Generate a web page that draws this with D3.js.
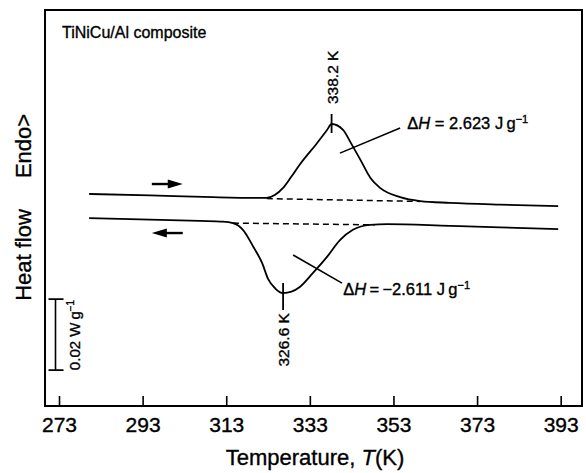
<!DOCTYPE html>
<html>
<head>
<meta charset="utf-8">
<script src="https://cdn.jsdelivr.net/npm/d3@7"></script>
<style>
  html, body { margin: 0; padding: 0; background: #fff; }
  svg { display: block; font-family: "Liberation Sans", Arial, Helvetica, sans-serif; }
  svg text { fill: #000; stroke: #000; stroke-width: 0.35px; }
</style>
</head>
<body>
<svg id="chart" width="586" height="473"></svg>
<script>
// DSC heat-flow traces of the TiNiCu/Al composite (temperature in K, heat flow in W/g)
const tempTicks = [273, 293, 313, 333, 353, 373, 393];

const heatingT    = [280.2, 294.8, 309.8, 321.1, 322.7, 324.6, 326.6, 328.6, 330.6, 334.7, 337.1, 338.2, 341.0, 342.7, 345.1, 347.5, 349.8, 354.6, 359.4, 366.5, 378.5, 392.4];
const heatingFlow = [0.0017, 0.0013, 0.0008, 0.0006, 0.0006, 0.0014, 0.0034, 0.0066, 0.0100, 0.0160, 0.0197, 0.0214, 0.0197, 0.0163, 0.0113, 0.0062, 0.0034, 0.0008, -0.0003, -0.0008, -0.0013, -0.0017];

const coolingT    = [280.2, 294.8, 306.7, 312.2, 314.6, 317.0, 319.4, 321.6, 323.0, 324.8, 326.6, 328.6, 330.6, 333.7, 337.1, 340.2, 343.3, 347.4, 351.5, 366.5, 378.5, 392.4];
const coolingFlow = [-0.0051, -0.0055, -0.0059, -0.0061, -0.0065, -0.0084, -0.0130, -0.0178, -0.0222, -0.0250, -0.0262, -0.0258, -0.0245, -0.0206, -0.0160, -0.0113, -0.0084, -0.0070, -0.0068, -0.0073, -0.0077, -0.0082];

// integration baselines under each transition peak
const heatingBaseT    = [322.7, 359.4];
const heatingBaseFlow = [0.0004, -0.0004];
const coolingBaseT    = [314.6, 348.6];
const coolingBaseFlow = [-0.0065, -0.0070];

const peakTemps  = [338.2, 326.6];
const peakFlows  = [0.0214, -0.0262];
const enthalpies = [2.623, -2.611];

const scaleBarValue = 0.02; // W/g

const svg = d3.select("#chart");
const frame = { left: 45, top: 10, right: 582, bottom: 406 };

const x = d3.scaleLinear().domain([269.65, 398.1]).range([frame.left, frame.right]);
const y = d3.scaleLinear().domain([-0.058, 0.0535]).range([frame.bottom, frame.top]);

// plot frame
svg.append("rect")
  .attr("x", frame.left).attr("y", frame.top)
  .attr("width", frame.right - frame.left).attr("height", frame.bottom - frame.top)
  .attr("fill", "none").attr("stroke", "#000").attr("stroke-width", 2);

// temperature axis: inward ticks
const xAxis = d3.axisBottom(x).tickValues(tempTicks).tickFormat(d3.format("d"))
  .tickSizeInner(-10).tickSizeOuter(0).tickPadding(11);
const gx = svg.append("g").attr("transform", `translate(0,${frame.bottom})`).call(xAxis);
gx.select(".domain").remove();
gx.selectAll(".tick line").attr("stroke", "#000").attr("stroke-width", 1.6);
gx.selectAll(".tick text").attr("font-size", 21)
  .attr("font-family", "'Liberation Sans', Arial, sans-serif");

const xTitle = svg.append("text").attr("x", 315).attr("y", 465)
  .attr("text-anchor", "middle").attr("font-size", 22);
xTitle.append("tspan").text("Temperature, ");
xTitle.append("tspan").attr("font-style", "italic").text("T");
xTitle.append("tspan").text("(K)");

// vertical axis labels
svg.append("text").attr("transform", "translate(31,255) rotate(-90)")
  .attr("text-anchor", "middle").attr("font-size", 22).text("Heat flow");
svg.append("text").attr("transform", "translate(31,146) rotate(-90)")
  .attr("text-anchor", "middle").attr("font-size", 22).text("Endo>");

svg.append("text").attr("x", 62).attr("y", 38).attr("font-size", 16).text("TiNiCu/Al composite");

// traces
const line = d3.line().x(d => x(d[0])).y(d => y(d[1])).curve(d3.curveMonotoneX);
const heating = d3.zip(heatingT, heatingFlow);
const cooling = d3.zip(coolingT, coolingFlow);

svg.append("path").attr("d", line(heating)).attr("fill", "none")
  .attr("stroke", "#000").attr("stroke-width", 1.8);
svg.append("path").attr("d", line(cooling)).attr("fill", "none")
  .attr("stroke", "#000").attr("stroke-width", 1.8);

const straight = d3.line().x(d => x(d[0])).y(d => y(d[1]));
[[heatingBaseT, heatingBaseFlow], [coolingBaseT, coolingBaseFlow]].forEach(([ts, fs]) => {
  svg.append("path").attr("d", straight(d3.zip(ts, fs))).attr("fill", "none")
    .attr("stroke", "#000").attr("stroke-width", 1.5).attr("stroke-dasharray", "6,4");
});

// heating / cooling direction arrows
function arrow(t0, t1, flow, dir) {
  const y0 = y(flow), xa = x(t0), xb = x(t1);
  const tip = dir > 0 ? xb : xa, tail = dir > 0 ? xa : xb;
  const headLen = 15 * dir;
  svg.append("line").attr("x1", tail).attr("x2", tip - headLen * 0.5).attr("y1", y0).attr("y2", y0)
    .attr("stroke", "#000").attr("stroke-width", 2.4);
  svg.append("path")
    .attr("d", `M${tip},${y0} L${tip - headLen},${y0 - 4.5} L${tip - headLen},${y0 + 4.5} Z`)
    .attr("fill", "#000");
}
arrow(295.2, 302.6, 0.0045, 1);
arrow(295.2, 302.6, -0.0093, -1);

// peak temperature markers
peakTemps.forEach((t, i) => {
  const px = x(t), py = y(peakFlows[i]);
  const up = i === 0;
  svg.append("line").attr("x1", px).attr("x2", px)
    .attr("y1", py - 10).attr("y2", up ? py + 9 : py + 17)
    .attr("stroke", "#000").attr("stroke-width", 1.8);
  const label = `${t.toFixed(1)} K`;
  if (up) {
    svg.append("text").attr("transform", `translate(${px + 6},${py - 20}) rotate(-90)`)
      .attr("text-anchor", "start").attr("font-size", 15.5).text(label);
  } else {
    svg.append("text").attr("transform", `translate(${px + 6},${py + 20}) rotate(-90)`)
      .attr("text-anchor", "end").attr("font-size", 15.5).text(label);
  }
});

// enthalpy call-outs
const leaders = [
  { from: [340.2, 0.0132], to: [354.6, 0.0203], text: [356.3, 0.0199] },
  { from: [329.0, -0.0155], to: [340.7, -0.0234], text: [341.0, -0.0267] }
];
leaders.forEach((c, i) => {
  svg.append("line")
    .attr("x1", x(c.from[0])).attr("y1", y(c.from[1]))
    .attr("x2", x(c.to[0])).attr("y2", y(c.to[1]))
    .attr("stroke", "#000").attr("stroke-width", 1.6);
  const t = svg.append("text").attr("x", x(c.text[0])).attr("y", y(c.text[1])).attr("font-size", 16.5);
  t.append("tspan").text("\u0394");
  t.append("tspan").attr("font-style", "italic").text("H");
  const v = enthalpies[i];
  const num = (v < 0 ? "\u2212" : "") + Math.abs(v).toFixed(3);
  t.append("tspan").text(i === 0 ? ` = ${num} J\u2009g` : `\u2009=\u2009${num} J\u2009g`);
  t.append("tspan").attr("dy", -6).attr("font-size", 11).text("\u22121");
});

// 0.02 W/g scale bar
const barTop = -0.0279, barBottom = barTop - scaleBarValue;
const bx = 55.5;
svg.append("path")
  .attr("d", `M${bx - 7},${y(barTop)} H${bx + 8} M${bx},${y(barTop)} V${y(barBottom)} M${bx - 7},${y(barBottom)} H${bx + 8}`)
  .attr("fill", "none").attr("stroke", "#000").attr("stroke-width", 1.6);
const sb = svg.append("text")
  .attr("transform", `translate(79.5,${y(barBottom)}) rotate(-90)`)
  .attr("text-anchor", "start").attr("font-size", 15);
sb.append("tspan").text(`${scaleBarValue} W\u2009g`);
sb.append("tspan").attr("dy", -6).attr("font-size", 10).text("\u22121");
</script>
</body>
</html>
